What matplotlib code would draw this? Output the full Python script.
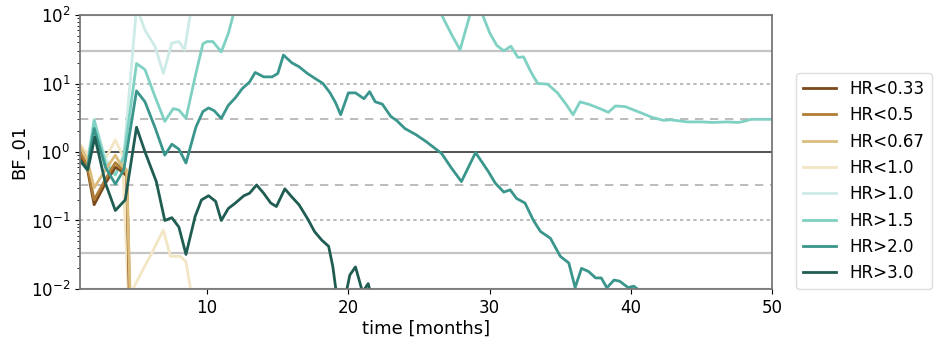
import matplotlib
matplotlib.use('Agg')
import matplotlib.pyplot as plt

# Bayes factor BF_01 over time for different hazard ratios
labels = ['HR<0.33', 'HR<0.5', 'HR<0.67', 'HR<1.0', 'HR>1.0', 'HR>1.5', 'HR>2.0', 'HR>3.0']
colors = ['#7a4a1c', '#b07d36', '#dcbd7e', '#f3e6c4', '#cdebe7', '#7fd1c3', '#3a968c', '#1f5c52']
# draw the pale curves underneath the others
layers = [5, 5, 5, 2, 3, 4, 6, 7]

t_hr033 = [1.0, 1.5, 2.0, 2.8, 3.5, 3.8, 4.3, 4.7]
bf_hr033 = [0.9, 0.6, 0.17, 0.35, 0.6, 0.55, 0.45, 1e-4]

t_hr05 = [1.0, 1.5, 2.0, 2.8, 3.5, 3.8, 4.3, 4.75]
bf_hr05 = [1.0, 0.65, 0.2, 0.4, 0.7, 0.6, 0.5, 1e-4]

t_hr067 = [1.0, 1.5, 2.0, 2.8, 3.5, 3.8, 4.3, 4.8]
bf_hr067 = [1.2, 0.8, 0.3, 0.55, 0.9, 0.7, 0.55, 1e-4]

t_hr10lo = [1.0, 1.5, 2.0, 2.8, 3.5, 4.0, 4.5, 4.75, 5.5, 6.0, 6.5, 6.9, 7.4, 8.1, 8.5, 8.9]
bf_hr10lo = [1.3, 0.95, 1.5, 0.8, 1.5, 0.9, 0.003, 0.01, 0.02, 0.031, 0.05, 0.072, 0.03, 0.03, 0.025, 0.008]

t_hr10hi = [1.0, 1.5, 2.0, 2.8, 3.5, 4.1, 5.0, 5.6, 6.3, 6.9, 7.5, 8.0, 8.4, 8.8, 9.2]
bf_hr10hi = [0.85, 0.65, 3.0, 0.8, 0.5, 0.9, 130, 60, 35, 14, 39, 41, 31, 100, 300]

t_hr15 = [1.0, 1.5, 2.0, 2.8, 3.5, 4.1, 5.0, 5.6, 6.3, 7.0, 7.6, 8.0, 8.5, 9.15, 9.7, 10.0,
          10.4, 11.0, 11.5, 11.9, 12.3, 26.4, 26.6, 27.3, 27.9, 28.6, 29.0, 29.5, 30.0, 30.5,
          31.0, 31.5, 32.0, 32.4, 32.9, 33.4, 34.1, 34.8, 35.4, 35.9, 36.4, 37.1, 37.8, 38.4,
          38.9, 39.6, 40.2, 40.9, 41.5, 42.3, 42.8, 43.4, 44.0, 45.0, 45.8, 46.8, 47.6, 48.0,
          48.5, 50.0]
bf_hr15 = [0.8, 0.6, 2.9, 0.69, 0.46, 0.85, 19.6, 15.9, 6.5, 2.8, 4.3, 4.1, 3.1, 12.6, 38, 41,
           41, 29, 54, 110, 250, 130, 100, 52, 31, 100, 150, 100, 55, 36,
           30, 35, 24, 24.5, 15, 10, 9.8, 7.3, 5.0, 3.5, 5.4, 4.9, 4.3, 3.8,
           4.7, 4.6, 4.1, 3.6, 3.2, 2.9, 2.95, 2.85, 2.75, 2.75, 2.7, 2.75, 2.7, 2.8,
           3.0, 3.0]

t_hr20 = [1.0, 1.5, 2.0, 2.8, 3.5, 4.1, 5.0, 5.6, 6.3, 7.0, 7.5, 8.0, 8.5, 9.2, 9.7, 10.1,
          10.5, 11.0, 11.5, 12.0, 12.5, 13.0, 13.4, 14.0, 14.6, 15.0, 15.4, 16.0, 16.5, 17.1,
          17.6, 18.2, 18.7, 19.1, 19.45, 20.0, 20.5, 21.1, 21.5, 21.9, 22.4, 23.0, 23.4, 24.0,
          24.8, 25.5, 26.2, 26.6, 27.3, 28.0, 29.0, 29.9, 30.4, 31.0, 31.45, 31.9, 32.5, 33.1,
          33.6, 34.3, 35.0, 35.6, 36.05, 36.5, 37.0, 37.5, 37.9, 38.3, 38.8, 39.2, 39.8, 40.2,
          40.6, 41.0]
bf_hr20 = [0.75, 0.55, 2.2, 0.6, 0.34, 0.55, 7.8, 5.4, 2.3, 0.9, 1.3, 1.1, 0.69, 2.3, 3.9, 4.4,
           4.0, 3.1, 4.8, 6.2, 8.5, 10.5, 14.5, 12.5, 12.5, 14, 26, 20, 17.6, 14,
           12, 10, 7.3, 5.2, 3.5, 7.3, 7.3, 6.0, 7.6, 5.4, 5.0, 3.3, 2.9, 2.2,
           1.78, 1.42, 1.1, 0.95, 0.58, 0.37, 0.98, 0.52, 0.35, 0.26, 0.28, 0.21, 0.18, 0.1,
           0.069, 0.055, 0.03, 0.024, 0.0105, 0.02, 0.018, 0.0145, 0.0145, 0.0104, 0.0135, 0.013, 0.0105, 0.011,
           0.0095, 0.005]

t_hr30 = [1.0, 1.55, 2.05, 2.8, 3.5, 4.2, 5.0, 5.6, 6.4, 7.0, 7.5, 8.0, 8.5, 9.15, 9.6, 10.1,
          10.6, 11.0, 11.5, 12.0, 12.6, 13.0, 13.5, 14.0, 14.5, 14.9, 15.5, 16.0, 16.5, 17.1,
          17.6, 18.1, 18.6, 18.9, 19.3, 19.85, 20.1, 20.5, 21.0, 21.4, 21.6, 22.0]
bf_hr30 = [0.75, 0.55, 1.65, 0.35, 0.14, 0.2, 2.3, 1.0, 0.37, 0.1, 0.11, 0.08, 0.032, 0.115, 0.2, 0.23,
           0.19, 0.1, 0.15, 0.18, 0.23, 0.25, 0.33, 0.25, 0.18, 0.16, 0.29, 0.22, 0.17, 0.107,
           0.069, 0.052, 0.042, 0.021, 0.005, 0.009, 0.016, 0.021, 0.009, 0.012, 0.008, 0.003]

times = [t_hr033, t_hr05, t_hr067, t_hr10lo, t_hr10hi, t_hr15, t_hr20, t_hr30]
values = [bf_hr033, bf_hr05, bf_hr067, bf_hr10lo, bf_hr10hi, bf_hr15, bf_hr20, bf_hr30]

fig = plt.figure(figsize=(9.36, 3.41), dpi=100)
ax = fig.add_axes([0.0855, 0.1525, 0.7395, 0.8035])

# Jeffreys scale reference lines
ax.axhline(1, color='#444444', lw=1.3, zorder=1)
for lev in [3, 1 / 3]:
    ax.axhline(lev, color='#b0b0b0', lw=1.2, ls=(0, (5, 4)), zorder=1)
for lev in [10, 0.1]:
    ax.axhline(lev, color='#b0b0b0', lw=1.2, ls=(0, (2, 2)), zorder=1)
for lev in [30, 1 / 30, 100, 0.01]:
    ax.axhline(lev, color='#c4c4c4', lw=1.6, zorder=1)

for t, v, c, lab, z in zip(times, values, colors, labels, layers):
    ax.plot(t, v, color=c, lw=2, label=lab, zorder=z)

ax.set_yscale('log')
ax.set_ylim(1e-2, 1e2)
ax.set_xlim(1, 50)
ax.set_xticks([10, 20, 30, 40, 50])
ax.tick_params(labelsize=12)
ax.set_xlabel('time [months]', fontsize=13, labelpad=2)
ax.set_ylabel('BF_01', fontsize=13, labelpad=2)
for s in ax.spines.values():
    s.set_color('#777777')
    s.set_linewidth(1.3)
    s.set_zorder(8)

ax.legend(loc='lower left', bbox_to_anchor=(1.035, 0.0), fontsize=12, framealpha=1,
          edgecolor='#dddddd', borderaxespad=0)

fig.savefig('out.png', dpi=100)
